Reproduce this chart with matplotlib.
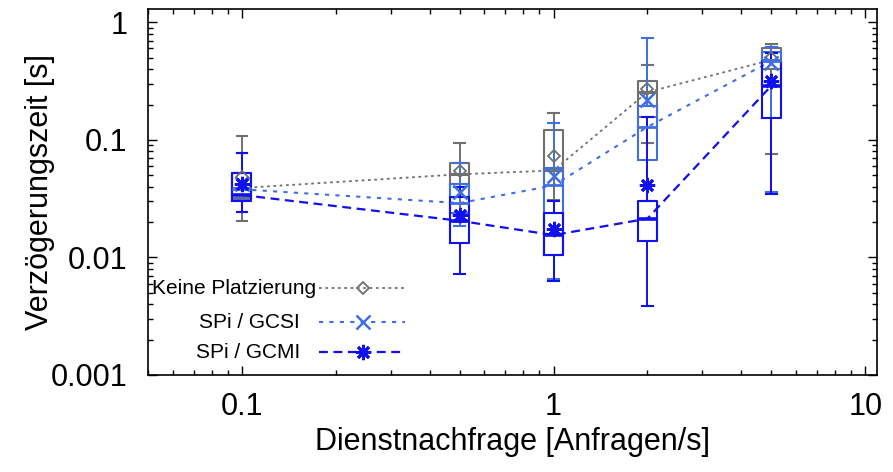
import numpy as np
import matplotlib
matplotlib.use("Agg")
import matplotlib.pyplot as plt
from matplotlib.ticker import FixedLocator, FixedFormatter, LogLocator, NullFormatter

plt.rcParams["font.family"] = ["Liberation Sans", "DejaVu Sans"]

# Dienstnachfrage [Anfragen/s]
rates = [0.1, 0.5, 1, 2, 5]

# Keine Platzierung
none_lo = [0.0206, 0.020, 0.031, 0.094, 0.076]
none_q1 = [0.032, 0.042, 0.054, 0.157, 0.40]
none_med = [0.039, 0.051, 0.055, 0.255, 0.48]
none_q3 = [0.052, 0.064, 0.122, 0.32, 0.61]
none_hi = [0.109, 0.095, 0.169, 0.43, 0.65]
none_mean = [0.048, 0.054, 0.073, 0.27, 0.50]

# SPi / GCSI
gcsi_lo = [0.0245, 0.0187, 0.0065, 0.030, 0.036]
gcsi_q1 = [0.031, 0.024, 0.0105, 0.068, 0.29]
gcsi_med = [0.038, 0.029, 0.041, 0.129, 0.47]
gcsi_q3 = [0.052, 0.0425, 0.058, 0.194, 0.56]
gcsi_hi = [0.078, 0.064, 0.139, 0.73, 0.62]
gcsi_mean = [0.042, 0.036, 0.049, 0.218, 0.45]

# SPi / GCMI
gcmi_lo = [0.0245, 0.0073, 0.0063, 0.0039, 0.035]
gcmi_q1 = [0.030, 0.0134, 0.0104, 0.0139, 0.154]
gcmi_med = [0.034, 0.0205, 0.0155, 0.0214, 0.29]
gcmi_q3 = [0.052, 0.033, 0.024, 0.030, 0.47]
gcmi_hi = [0.078, 0.040, 0.030, 0.157, 0.55]
gcmi_mean = [0.042, 0.023, 0.0175, 0.041, 0.32]

labels = ["Keine Platzierung", "SPi / GCSI", "SPi / GCMI"]

GRAY = "#707070"
LBLUE = "#3f6fe6"
DBLUE = "#1010f0"


def make_stats(lo, q1, med, q3, hi, mean):
    return [
        {"whislo": a, "q1": b, "med": c, "q3": d, "whishi": e, "mean": m, "fliers": []}
        for a, b, c, d, e, m in zip(lo, q1, med, q3, hi, mean)
    ]


# (stats, medians, colour, mean marker, line style, line width, median width)
series = [
    (make_stats(none_lo, none_q1, none_med, none_q3, none_hi, none_mean), none_med, GRAY,
     dict(marker="D", markersize=6, markerfacecolor="none", markeredgecolor=GRAY, markeredgewidth=1.3),
     (0, (1.5, 2.0)), 1.3, 2.2),
    (make_stats(gcsi_lo, gcsi_q1, gcsi_med, gcsi_q3, gcsi_hi, gcsi_mean), gcsi_med, LBLUE,
     dict(marker="x", markersize=10, markeredgecolor=LBLUE, markeredgewidth=1.8),
     (0, (2.0, 3.0)), 1.5, 2.0),
    (make_stats(gcmi_lo, gcmi_q1, gcmi_med, gcmi_q3, gcmi_hi, gcmi_mean), gcmi_med, DBLUE,
     dict(marker=(8, 2, 0), markersize=11, markeredgecolor=DBLUE, markeredgewidth=2.0),
     (0, (4.0, 2.5)), 1.6, 2.6),
]

fig = plt.figure(figsize=(8.93, 4.72), dpi=100)
ax = fig.add_axes([148 / 893, 1 - 375 / 472, (877 - 148) / 893, (375 - 9) / 472])
ax.set_xscale("log")
ax.set_yscale("log")

pos = np.array(rates, dtype=float)
widths = pos * 0.14

for stats, med, color, mprops, ls, lw, mw in series:
    ax.bxp(
        stats,
        positions=rates,
        widths=widths,
        capwidths=widths * 0.55,
        showmeans=True,
        showfliers=False,
        manage_ticks=False,
        boxprops=dict(color=color, linewidth=1.5),
        whiskerprops=dict(color=color, linewidth=1.4),
        capprops=dict(color=color, linewidth=1.5),
        medianprops=dict(color=color, linewidth=mw),
        meanprops=dict(linestyle="none", **mprops),
    )
    ax.plot(rates, med, color=color, linestyle=ls, linewidth=lw, zorder=1.5)

ax.set_xlim(0.05, 10.9)
ax.set_ylim(0.001, 1.3)

ax.xaxis.set_major_locator(FixedLocator([0.1, 1, 10]))
ax.xaxis.set_major_formatter(FixedFormatter(["0.1", "1", "10"]))
ax.yaxis.set_major_locator(FixedLocator([0.001, 0.01, 0.1, 1]))
ax.yaxis.set_major_formatter(FixedFormatter(["0.001", "0.01", "0.1", "1"]))
for axis in (ax.xaxis, ax.yaxis):
    axis.set_minor_locator(LogLocator(base=10, subs=np.arange(2, 10), numticks=20))
    axis.set_minor_formatter(NullFormatter())

ax.tick_params(which="both", direction="in", top=True, right=True, width=1.0)
ax.tick_params(which="major", length=6.5, labelsize=22)
ax.tick_params(axis="y", which="major", pad=15)
ax.tick_params(axis="x", which="major", pad=12)
ax.tick_params(which="minor", length=3.6)
for sp in ax.spines.values():
    sp.set_linewidth(1.2)

ax.set_xlabel("Dienstnachfrage [Anfragen/s]", fontsize=22, labelpad=4)
ax.set_ylabel("Verzögerungszeit [s]", fontsize=22, labelpad=-3)

# Legende wie im Original: Text rechtsbündig links vom Linienmuster
axw, axh = 877 - 148, 375 - 9
legend_rows = [(288, 316), (322, 300), (352, 300)]
for (py, tx), (stats, med, color, mprops, ls, lw, mw), lab in zip(legend_rows, series, labels):
    y = (375 - py) / axh
    ax.text((tx - 148) / axw, y, lab, transform=ax.transAxes, ha="right", va="center", fontsize=15)
    ax.plot([(319 - 148) / axw, (405 - 148) / axw], [y, y], transform=ax.transAxes,
            color=color, linestyle=ls, linewidth=lw, clip_on=False)
    ax.plot([(363 - 148) / axw], [y], transform=ax.transAxes, linestyle="none", **mprops)

fig.savefig("out.png", dpi=100)
